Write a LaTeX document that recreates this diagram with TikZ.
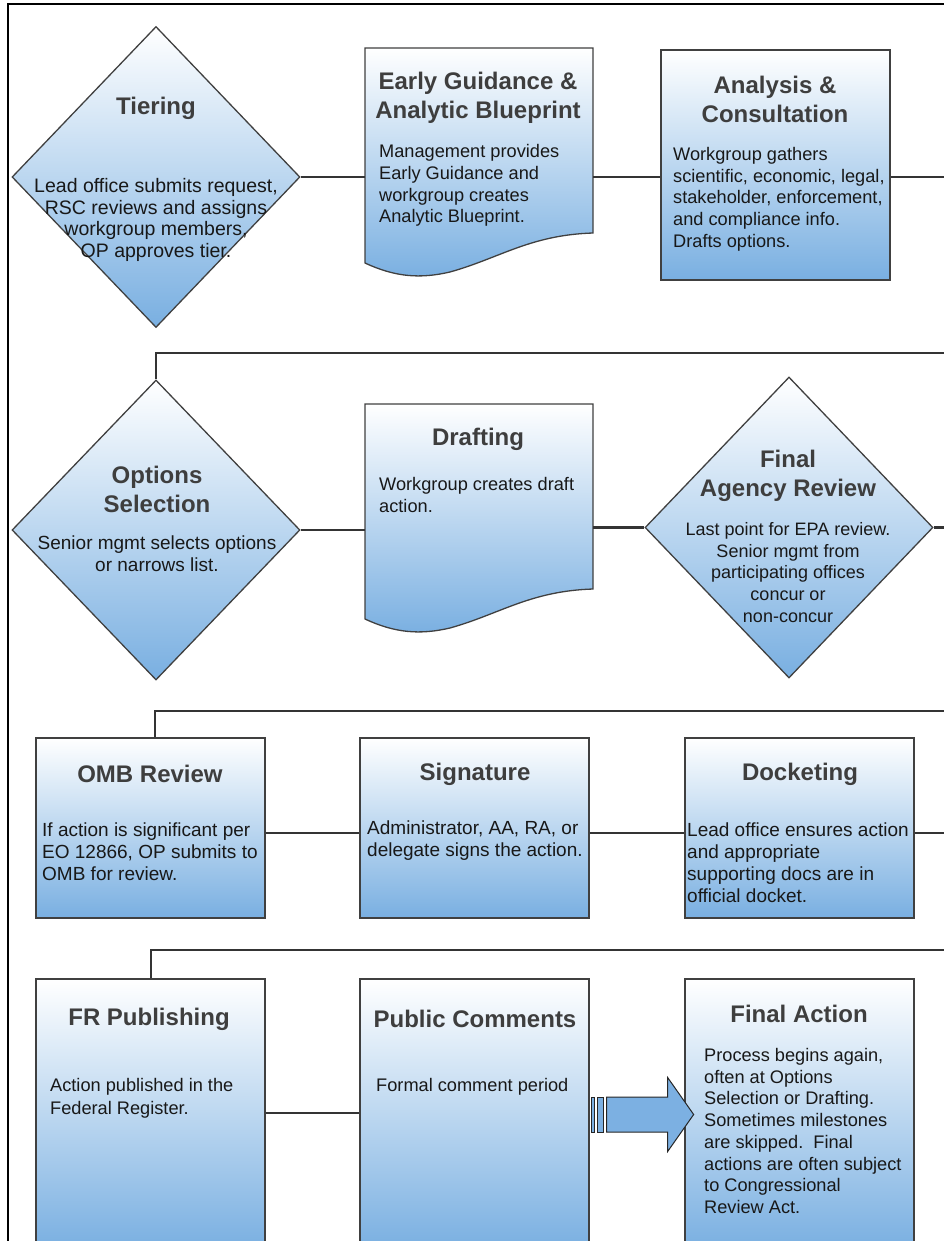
\documentclass[tikz,border=0pt]{standalone}
\usepackage{fontspec}
\setmainfont{Liberation Sans}
\usetikzlibrary{shapes.geometric,calc}
\definecolor{edgegray}{RGB}{64,64,64}
\definecolor{conngray}{RGB}{52,52,52}
\definecolor{titlegray}{RGB}{62,62,62}
\definecolor{bodyblack}{RGB}{24,24,24}
\definecolor{fillblue}{RGB}{121,175,225}
\definecolor{arrowblue}{RGB}{124,176,226}
\begin{document}
\begin{tikzpicture}[x=1pt,y=1pt,
  shapefill/.style={top color=white, bottom color=fillblue, draw=edgegray, line width=1.3pt},
  boxnode/.style={shapefill, rectangle, inner sep=0pt, minimum width=229pt},
  dia/.style={shapefill, diamond, inner sep=0pt, minimum width=288pt, minimum height=301pt},
  ghost/.style={rectangle, inner sep=0pt, minimum width=228pt},
  conn/.style={draw=conngray, line width=2.9pt},
  arrowpart/.style={fill=arrowblue, draw=black!85, line width=1pt},
  ttl/.style={font=\fontsize{24}{29}\selectfont\bfseries, text=titlegray, align=center, inner sep=0pt},
  bodyc/.style={font=\fontsize{18.2}{21.7}\selectfont, text=bodyblack, align=center, inner sep=0pt},
  bodyl/.style={font=\fontsize{18.2}{21.7}\selectfont, text=bodyblack, align=left, inner sep=0pt, anchor=west},
  bodyr/.style={font=\fontsize{19}{22}\selectfont, text=bodyblack, align=left, inner sep=0pt, anchor=west},
]
\useasboundingbox (0,0) rectangle (943,-1241);

% ---------- frame ----------
\draw[line width=2pt, black] (8,-1260) -- (8,-4) -- (960,-4);

% ---------- shapes ----------
% Row 1
\node[dia] (tier) at (156,-177) {};
\node[ghost, minimum height=227pt] (egb) at (479,-161.5) {};
\path[shapefill] (365,-48) -- (593,-48) -- (593,-233)
  .. controls (530,-235) and (500,-258) .. (450,-272)
  .. controls (420,-279) and (395,-277) .. (365,-263) -- cycle;
\node[boxnode, minimum height=230pt] (ana) at (775.5,-165) {};

% Row 2
\node[dia, minimum height=300pt] (opt) at (156,-530) {};
\node[ghost, minimum height=227pt] (draft) at (479,-517.5) {};
\path[shapefill] (365,-404) -- (593,-404) -- (593,-589)
  .. controls (530,-591) and (500,-614) .. (450,-628)
  .. controls (420,-635) and (395,-633) .. (365,-619) -- cycle;
\node[dia] (fa) at (789,-527.5) {};

% Row 3
\node[boxnode, minimum height=180pt] (omb) at (150.5,-828) {};
\node[boxnode, minimum height=180pt] (sig) at (474.5,-828) {};
\node[boxnode, minimum height=180pt] (dock) at (799.5,-828) {};

% Row 4
\node[boxnode, minimum height=271pt] (fr) at (150.5,-1114.5) {};
\node[boxnode, minimum height=271pt] (pc) at (474.5,-1114.5) {};
\node[boxnode, minimum height=271pt] (fin) at (799.5,-1114.5) {};

% ---------- connectors ----------
\coordinate (rt) at (960,0);
\coordinate (r1) at (0,-177);
\draw[conn] (tier.east) -- (egb.west |- r1);
\draw[conn] (egb.east |- r1) -- (ana.west |- r1);
\draw[conn] (ana.east |- r1) -- (rt |- r1);

\coordinate (r2top) at (0,-353);
\draw[conn] (opt.north) -- (opt.north |- r2top) -- (rt |- r2top);
\draw[conn] (opt.east) -- (draft.west |- opt.east);
\draw[conn] (draft.east |- fa.west) -- (fa.west);
\draw[conn] (fa.east) -- (rt |- fa.east);

\coordinate (r3top) at (155,-711);
\coordinate (r3) at (0,-833);
\draw[conn] (r3top |- omb.north) -- (r3top) -- (rt |- r3top);
\draw[conn] (omb.east |- r3) -- (sig.west |- r3);
\draw[conn] (sig.east |- r3) -- (dock.west |- r3);
\draw[conn] (dock.east |- r3) -- (rt |- r3);

\coordinate (r4top) at (151,-950);
\coordinate (r4) at (0,-1113);
\draw[conn] (r4top |- fr.north) -- (r4top) -- (rt |- r4top);
\draw[conn] (fr.east |- r4) -- (pc.west |- r4);

% striped block arrow from Public Comments to Final Action
\coordinate (as) at (pc.east |- 0,-1114.5);
\draw[arrowpart] ($(as)+(1.5,17.5)$) rectangle ($(as)+(5,-17.5)$);
\draw[arrowpart] ($(as)+(8,17.5)$) rectangle ($(as)+(14,-17.5)$);
\draw[arrowpart, line join=miter] ($(as)+(17,17.5)$) -- ($(as)+(78,17.5)$) -- ($(as)+(78,37)$)
  -- ($(as)+(104,0)$) -- ($(as)+(78,-37)$) -- ($(as)+(78,-17.5)$) -- ($(as)+(17,-17.5)$) -- cycle;

% ---------- texts ----------
\node[ttl] at (156,-108) {Tiering};
\node[bodyc, font=\fontsize{19.5}{21.8}\selectfont] at (156,-220) {Lead office submits request,\\ RSC reviews and assigns\\ workgroup members,\\ OP approves tier.};

\node[ttl] at (478,-97.5) {Early Guidance \&\\ Analytic Blueprint};
\node[bodyl] at (379,-185.5) {Management provides\\ Early Guidance and\\ workgroup creates\\ Analytic Blueprint.};

\node[ttl] at (775,-99) {Analysis \&\\ Consultation};
\node[bodyl] at (673,-199) {Workgroup gathers\\ scientific, economic, legal,\\ stakeholder, enforcement,\\ and compliance info.\\ Drafts options.};

\node[ttl] at (157,-489) {Options\\ Selection};
\node[bodyc, font=\fontsize{19}{21.7}\selectfont] at (157,-553.5) {Senior mgmt selects options\\ or narrows list.};

\node[ttl] at (478,-439) {Drafting};
\node[bodyl] at (379,-495) {Workgroup creates draft\\ action.};

\node[ttl] at (788,-476) {Final\\ Agency Review};
\node[bodyc, font=\fontsize{18}{21.7}\selectfont] at (788,-572.5) {Last point for EPA review.\\ Senior mgmt from\\ participating offices\\ concur or\\ non-concur};

\node[ttl] at (150,-774) {OMB Review};
\node[bodyr] at (42,-852) {If action is significant per\\ EO 12866, OP submits to\\ OMB for review.};

\node[ttl] at (475,-774) {Signature};
\node[bodyr] at (367,-841) {Administrator, AA, RA, or\\ delegate signs the action.};

\node[ttl] at (800,-774) {Docketing};
\node[bodyr] at (687,-863) {Lead office ensures action\\ and appropriate\\ supporting docs are in\\ official docket.};

\node[ttl] at (149,-1019) {FR Publishing};
\node[bodyl, font=\fontsize{18.2}{22.8}\selectfont] at (50,-1098) {Action published in the\\ Federal Register.};

\node[ttl] at (475,-1019) {Public Comments};
\node[bodyl] at (376,-1086.5) {Formal comment period};

\node[ttl] at (799,-1014) {Final Action};
\node[bodyl] at (704,-1131) {Process begins again,\\ often at Options\\ Selection or Drafting.\\ Sometimes milestones\\ are skipped.\ \ Final\\ actions are often subject\\ to Congressional\\ Review Act.};
\end{tikzpicture}
\end{document}
